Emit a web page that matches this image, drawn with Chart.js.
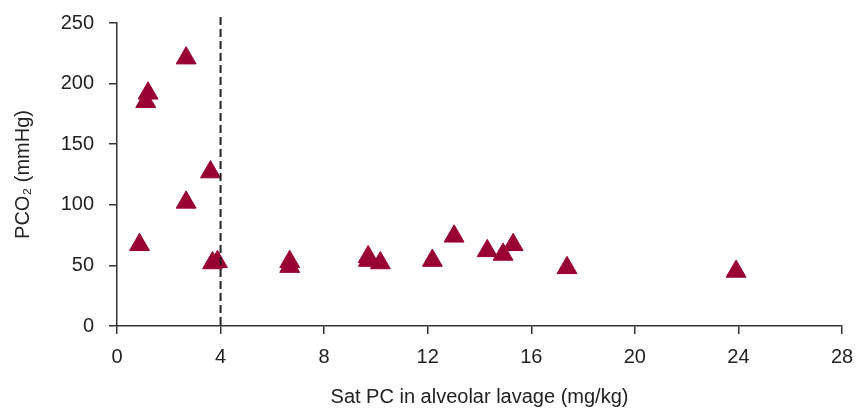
<!DOCTYPE html>
<html>
<head>
<meta charset="utf-8">
<script src="https://cdn.jsdelivr.net/npm/chart.js"></script>
<style>
  html, body { margin: 0; padding: 0; background: #fff; }
  #pcoChart { display: block; }
</style>
</head>
<body>
<canvas id="pcoChart" width="857" height="408"></canvas>
<script>
// Sat PC (mg/kg) vs PCO2 (mmHg)
const satPC = [2.67, 1.2, 1.11, 3.61, 2.67, 0.87, 3.69, 3.88, 6.67, 6.67,
               9.7, 9.71, 10.17, 12.18, 13.02, 14.3, 14.91, 15.3, 17.38, 23.91];
const pco2 = [221, 192, 185, 127, 102, 67, 52, 53, 53, 49,
              57, 54, 52, 54, 74, 62, 59, 67, 48, 45];
const xTicks = [0, 4, 8, 12, 16, 20, 24, 28];
const yTicks = [0, 50, 100, 150, 200, 250];
const cutoff = 4;

const axisColor = '#333333';
const markColor = '#990033';
const fontFamily = '"Liberation Sans", Arial, sans-serif';

const points = satPC.map((x, i) => ({ x: x, y: pco2[i] }));

// vertical dashed line at the cutoff value
const cutoffLine = {
    id: 'cutoffLine',
    afterDatasetsDraw(chart) {
        const ctx = chart.ctx;
        const xPos = chart.scales.x.getPixelForValue(cutoff);
        const area = chart.chartArea;
        ctx.save();
        ctx.strokeStyle = '#222';
        ctx.lineWidth = 2;
        ctx.setLineDash([8, 4]);
        ctx.beginPath();
        ctx.moveTo(xPos, area.top - 6);
        ctx.lineTo(xPos, area.bottom);
        ctx.stroke();
        ctx.restore();
    }
};

new Chart(document.getElementById('pcoChart').getContext('2d'), {
    type: 'scatter',
    data: {
        datasets: [{
            data: points,
            pointStyle: 'triangle',
            pointRadius: 11.5,
            pointHoverRadius: 11.5,
            backgroundColor: markColor,
            borderColor: markColor,
            borderWidth: 1
        }]
    },
    options: {
        responsive: false,
        animation: false,
        layout: { padding: { top: 23, right: 15, left: 11, bottom: 0 } },
        plugins: {
            legend: { display: false },
            tooltip: { enabled: false }
        },
        scales: {
            x: {
                type: 'linear',
                min: 0,
                max: 28,
                afterBuildTicks: axis => { axis.ticks = xTicks.map(v => ({ value: v })); },
                afterFit: axis => { axis.height = 82; axis.paddingLeft = 0; axis.paddingRight = 0; },
                grid: { drawOnChartArea: false, drawTicks: true, tickLength: 8, color: axisColor, lineWidth: 1.5 },
                border: { color: axisColor, width: 1.5 },
                ticks: { color: '#222', font: { family: fontFamily, size: 20 }, padding: 11, maxRotation: 0 },
                title: {
                    display: true,
                    text: 'Sat PC in alveolar lavage (mg/kg)',
                    color: '#222',
                    font: { family: fontFamily, size: 20, lineHeight: 1.1 },
                    padding: { top: 7, bottom: 0 }
                }
            },
            y: {
                type: 'linear',
                min: 0,
                max: 250,
                afterBuildTicks: axis => { axis.ticks = yTicks.map(v => ({ value: v })); },
                afterFit: axis => { axis.width = 106; axis.paddingTop = 0; axis.paddingBottom = 0; },
                grid: { drawOnChartArea: false, drawTicks: true, tickLength: 8, color: axisColor, lineWidth: 1.5 },
                border: { color: axisColor, width: 1.5 },
                ticks: { color: '#222', font: { family: fontFamily, size: 20 }, padding: 15 },
                title: {
                    display: true,
                    text: 'PCO₂ (mmHg)',
                    color: '#222',
                    font: { family: fontFamily, size: 20 },
                    padding: { top: 0, bottom: 6 }
                }
            }
        }
    },
    plugins: [cutoffLine]
});
</script>
</body>
</html>
